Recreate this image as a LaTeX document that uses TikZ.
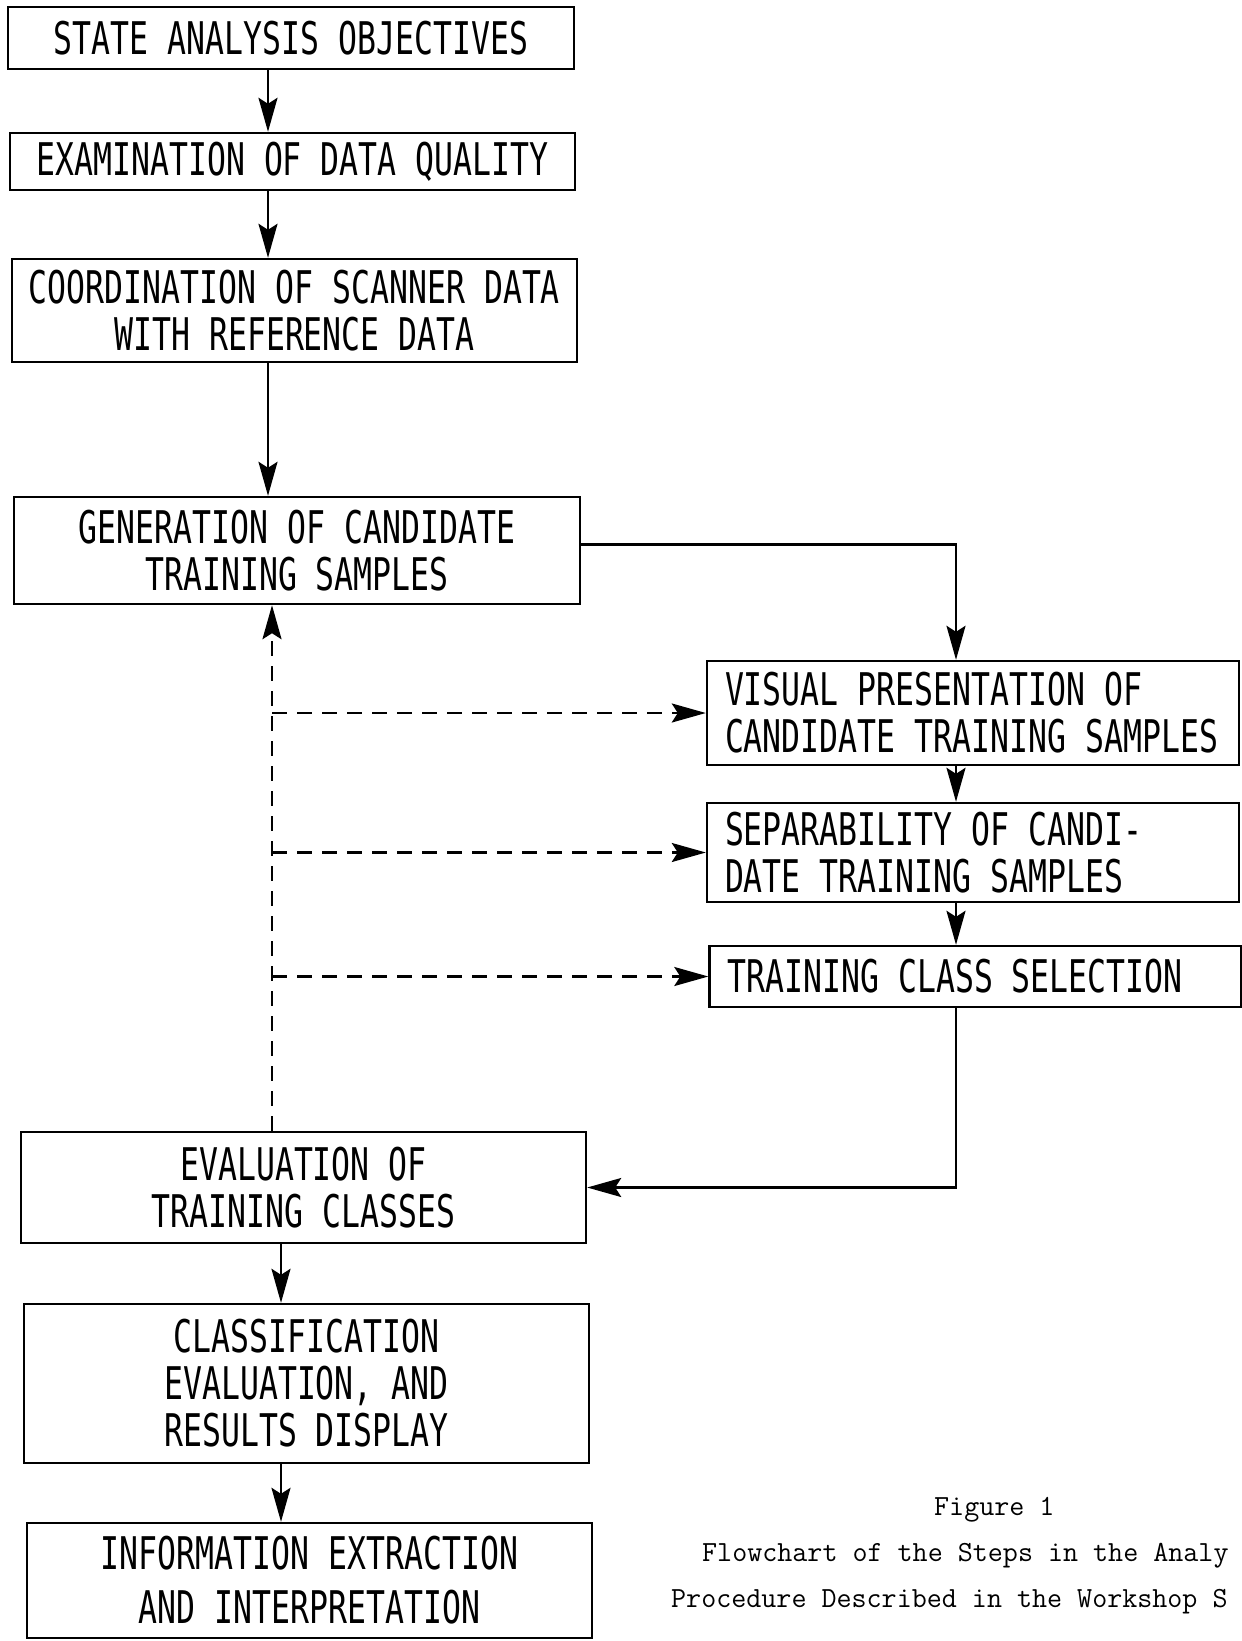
\documentclass[tikz,border=0pt]{standalone}
\usepackage{fontspec}
\newfontfamily\lettering[FakeStretch=0.70]{DejaVu Sans Mono}
\usetikzlibrary{arrows.meta}

\begin{document}
\begin{tikzpicture}[x=1pt, y=-1pt, line width=2.4pt,
  >={Stealth[length=34pt, width=19pt, inset=6pt]},
  stage/.style={draw, inner sep=0pt, align=center,
                font=\lettering\fontsize{45}{47}\selectfont},
  side/.style={stage, align=left, text width=496pt, inner xsep=18pt,
               execute at begin node={\spaceskip=0pt\xspaceskip=0pt\hyphenpenalty=10000}},
  sz/.style 2 args={minimum width=#1, minimum height=#2},
  s/.style={->},
  v/.style={->, dash pattern=on 15pt off 10pt},
  captxt/.style={anchor=base west, inner sep=0pt,
                 font=\ttfamily\fontsize{29.2}{34}\selectfont}]
\useasboundingbox (0,0) rectangle (1242,1641);
% main column (left)
\node[stage, sz={566pt}{62pt}]  (b1) at (291,38)    {STATE ANALYSIS OBJECTIVES};
\node[stage, sz={565pt}{57pt}]  (b2) at (292.5,161.5) {EXAMINATION OF DATA QUALITY};
\node[stage, sz={565pt}{103pt}] (b3) at (294.5,310.5) {COORDINATION OF SCANNER DATA\\WITH REFERENCE DATA};
\node[stage, sz={566pt}{107pt}] (b4) at (297,550.5) {GENERATION OF CANDIDATE\\TRAINING SAMPLES};
% training loop (right)
\node[side, sz={532pt}{104pt}] (b5) at (973,713)   {VISUAL PRESENTATION OF\\CANDIDATE TRAINING SAMPLES};
\node[side, sz={532pt}{99pt}]  (b6) at (973,852.5) {SEPARABILITY OF CANDI-\\DATE TRAINING SAMPLES};
\node[side, sz={531pt}{61pt}]  (b7) at (975.5,976.5) {TRAINING CLASS SELECTION};
% lower column
\node[stage, sz={565pt}{111pt}] (b8) at (303.5,1187.5) {EVALUATION OF\\TRAINING CLASSES};
\node[stage, sz={565pt}{159pt}] (b9) at (306.5,1383.5) {CLASSIFICATION\\EVALUATION, AND\\RESULTS DISPLAY};
\node[stage, sz={565pt}{115pt}, font=\lettering\fontsize{45}{54}\selectfont]
     (b10) at (309.5,1580.5) {INFORMATION EXTRACTION\\AND INTERPRETATION};
% caption
\node[captxt] (fig)  at (933,1515) {Figure 1};
\node[captxt] (cap1) at (701,1561) {Flowchart of the Steps in the Analy};
\node[captxt] (cap2) at (670,1607) {Procedure Described in the Workshop S};
% spines for the connectors
\coordinate (sp) at (268,0);
\coordinate (sq) at (281,0);
\coordinate (dx) at (272,0);
\coordinate (rx) at (956,0);
\draw[s] (b1.south -| sp) -- (b2.north -| sp);
\draw[s] (b2.south -| sp) -- (b3.north -| sp);
\draw[s] (b3.south -| sp) -- (b4.north -| sp);
\draw[s] ([yshift=6pt]b4.east) -| (b5.north -| rx);
\draw[s] (b5.south -| rx) -- (b6.north -| rx);
\draw[s] (b6.south -| rx) -- (b7.north -| rx);
\draw[s] (b7.south -| rx) |- (b8.east);
\draw[s] (b8.south -| sq) -- (b9.north -| sq);
\draw[s] (b9.south -| sq) -- (b10.north -| sq);
% feedback (dashed)
\draw[v] (b8.north -| dx) -- (b4.south -| dx);
\foreach \n in {b5,b6,b7} \draw[v] (dx |- \n.west) -- (\n.west);
\end{tikzpicture}
\end{document}
